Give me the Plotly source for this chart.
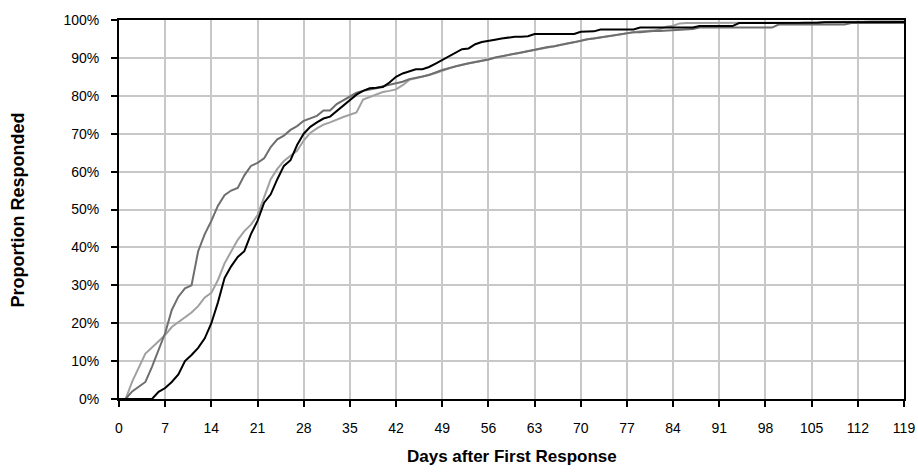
import plotly.graph_objects as go

days = list(range(0, 120))

# Proportion responded (%) per day
black_series = [
    0, 0, 0, 0, 0, 0, 1.9, 2.9, 4.5, 6.5,
    10, 11.6, 13.5, 16, 20, 25.5, 31.9, 35, 37.5, 39,
    43.5, 47, 51.8, 54, 58, 61.5, 63, 67, 70, 71.8,
    73, 74, 74.5, 76, 77.5, 79, 80.3, 81.3, 82, 82.1,
    82.3, 83.5, 85, 85.9, 86.5, 87, 87, 87.6, 88.5, 89.5,
    90.5, 91.5, 92.3, 92.5, 93.6, 94.2, 94.6, 94.8, 95.1, 95.4,
    95.6, 95.6, 95.7, 96.3, 96.3, 96.3, 96.3, 96.3, 96.3, 96.3,
    96.9, 96.9, 97.0, 97.5, 97.5, 97.5, 97.5, 97.5, 97.5, 98.0,
    98.0, 98.0, 98.0, 98.0, 98.0, 98.0, 98.0, 98.0, 98.4, 98.4,
    98.4, 98.4, 98.4, 98.4, 99.2, 99.2, 99.2, 99.2, 99.2, 99.2,
    99.3, 99.3, 99.3, 99.3, 99.3, 99.3, 99.3, 99.4, 99.4, 99.4,
    99.4, 99.4, 99.4, 99.5, 99.5, 99.5, 99.5, 99.5, 99.5, 99.5,
]

dark_series = [
    0, 0, 2, 3.3, 4.5, 8.5, 12.9, 17.4, 23.5, 27,
    29.2, 30, 39, 43.5, 47, 51, 53.8, 55, 55.7, 59,
    61.5, 62.3, 63.5, 66.5, 68.5, 69.5, 71, 72, 73.4, 74,
    74.7, 76.1, 76.1, 77.8, 78.8, 79.9, 80.8, 81.3, 81.6, 82,
    82.5, 82.9, 83.2, 83.7, 84.4, 84.7, 85.1, 85.5, 86.2, 86.8,
    87.3, 87.8, 88.3, 88.6, 88.9, 89.2, 89.6, 90.1, 90.5, 90.9,
    91.1, 91.4, 91.8, 92.1, 92.5, 92.9, 93.1, 93.5, 93.8, 94.1,
    94.5, 94.9, 95.1, 95.4, 95.7, 95.9, 96.3, 96.5, 96.8, 96.8,
    97.0, 97.1, 97.1, 97.2, 97.3, 97.5, 97.6, 97.6, 98.0, 98.0,
    98.0, 98.0, 98.0, 98.0, 98.0, 98.0, 98.0, 98.0, 98.0, 98.0,
    98.8, 98.8, 98.8, 98.8, 98.8, 98.8, 98.8, 98.8, 98.8, 98.8,
    98.8, 99.2, 99.2, 99.2, 99.2, 99.2, 99.2, 99.2, 99.2, 99.2,
]

light_series = [
    0, 0, 4.6, 8.5, 12, 13.6, 15.3, 16.9, 19, 20.2,
    21.4, 22.8, 24.5, 26.8, 28, 31.4, 35.8, 39, 42, 44.3,
    46, 48.5, 53.5, 58, 60.7, 62.8, 64.2, 65.5, 68.2, 70.2,
    71.4, 72.4, 73, 73.8, 74.4, 75, 75.6, 79, 79.6, 80.3,
    81, 81.3, 81.7, 82.8, 84.2, 84.6, 85, 85.4, 86, 86.6,
    87.3, 87.8, 88.2, 88.5, 88.8, 89.2, 89.6, 90, 90.5, 90.8,
    91.1, 91.4, 91.8, 92.1, 92.5, 92.8, 93.1, 93.5, 93.8, 94.1,
    94.5, 94.9, 95.1, 95.4, 95.7, 95.9, 96.2, 96.5, 96.8, 97.0,
    97.1, 97.2, 97.6, 98.2, 98.5, 99.1, 99.2, 99.2, 99.2, 99.2,
    99.2, 99.2, 99.2, 99.2, 99.2, 99.2, 99.2, 99.2, 99.3, 99.3,
    99.3, 99.3, 99.3, 99.3, 99.4, 99.4, 99.4, 99.4, 99.5, 99.5,
    99.5, 99.6, 99.6, 99.6, 99.7, 99.7, 99.7, 99.7, 99.7, 99.7,
]

x_ticks = list(range(0, 120, 7))
y_ticks = list(range(0, 101, 10))
x_title = "Days after First Response"
y_title = "Proportion Responded"

fig = go.Figure()
fig.add_trace(go.Scatter(x=days, y=light_series, mode="lines",
                         line=dict(color="#a0a0a0", width=2), showlegend=False))
fig.add_trace(go.Scatter(x=days, y=dark_series, mode="lines",
                         line=dict(color="#6e6e6e", width=2), showlegend=False))
fig.add_trace(go.Scatter(x=days, y=black_series, mode="lines",
                         line=dict(color="#000000", width=2), showlegend=False))

font_family = "Liberation Sans, Arial, sans-serif"

fig.update_layout(
    width=918, height=473,
    margin=dict(l=119, r=14, t=20, b=74),
    paper_bgcolor="white", plot_bgcolor="white",
    font=dict(family=font_family, size=14, color="black"),
)
fig.update_xaxes(
    range=[0, 119], tickvals=x_ticks, ticktext=[str(v) for v in x_ticks],
    showgrid=True, gridcolor="#c8c8c8", gridwidth=2,
    showline=True, linecolor="black", linewidth=2, mirror=True,
    ticks="outside", ticklen=6, tickwidth=2, tickcolor="black",
    ticklabelstandoff=9, automargin=False,
    zeroline=False,
)
fig.update_yaxes(
    range=[0, 100], tickvals=y_ticks, ticktext=[f"{v}%" for v in y_ticks],
    showgrid=True, gridcolor="#c8c8c8", gridwidth=2,
    showline=True, linecolor="black", linewidth=2, mirror=True,
    ticks="outside", ticklen=6, tickwidth=2, tickcolor="black",
    ticklabelstandoff=9, automargin=False,
    zeroline=False,
)
fig.add_annotation(text=f"<b>{x_title}</b>", xref="paper", yref="paper",
                   x=0.5, y=-0.153, xanchor="center", yanchor="middle",
                   showarrow=False, font=dict(size=17))
fig.add_annotation(text=f"<b>{y_title}</b>", xref="paper", yref="paper",
                   x=-0.1287, y=0.5, xanchor="center", yanchor="middle",
                   textangle=-90, showarrow=False, font=dict(size=18))

fig.write_html("out.html", config={"displayModeBar": False},
               post_script="document.body.style.margin='0';")
